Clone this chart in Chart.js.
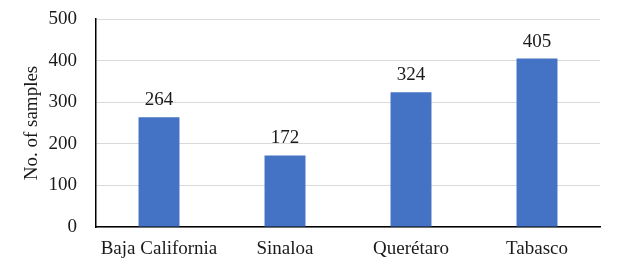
<!DOCTYPE html>
<html>
<head>
<meta charset="utf-8">
<script src="https://cdn.jsdelivr.net/npm/chart.js@4"></script>
<style>
html,body{margin:0;padding:0;background:#fff;}
#wrap{width:619px;height:272px;position:relative;}
</style>
</head>
<body>
<div id="wrap"><canvas id="c" width="619" height="272"></canvas></div>
<script>
const categories = ["Baja California", "Sinaloa", "Querétaro", "Tabasco"];
const samples = [264, 172, 324, 405];
const yTicks = [0, 100, 200, 300, 400, 500];

const FONT = "'Liberation Serif', 'Times New Roman', serif";

const valueLabels = {
  id: 'valueLabels',
  afterDatasetsDraw(chart) {
    const ctx = chart.ctx;
    const meta = chart.getDatasetMeta(0);
    ctx.save();
    ctx.font = "19px " + FONT;
    ctx.fillStyle = "#1a1a1a";
    ctx.textAlign = "center";
    ctx.textBaseline = "alphabetic";
    meta.data.forEach((bar, i) => {
      ctx.fillText(String(samples[i]), bar.x, bar.y - 12);
    });
    ctx.restore();
  }
};

new Chart(document.getElementById('c'), {
  type: 'bar',
  data: {
    labels: categories,
    datasets: [{
      data: samples,
      backgroundColor: '#4472C4',
      borderWidth: 0,
      barPercentage: 0.65,
      categoryPercentage: 0.5
    }]
  },
  options: {
    responsive: false,
    animation: false,
    devicePixelRatio: 1,
    layout: { padding: { top: 19, right: 19, left: 0, bottom: 0 } },
    plugins: { legend: { display: false }, tooltip: { enabled: false } },
    scales: {
      x: {
        grid: { display: false, drawTicks: false },
        border: { color: '#000', width: 1.5 },
        ticks: { color: '#1a1a1a', font: { family: FONT, size: 19 }, padding: 11, maxRotation: 0, autoSkip: false },
        afterFit(s) { s.height = 45; s.paddingLeft = 0; s.paddingRight = 0; }
      },
      y: {
        min: 0, max: 500,
        afterBuildTicks(s) { s.ticks = yTicks.map(v => ({ value: v })); },
        grid: { color: '#d9d9d9', lineWidth: 1, drawTicks: false },
        border: { color: '#000', width: 1.5 },
        ticks: { color: '#1a1a1a', font: { family: FONT, size: 19 }, padding: 19 },
        title: { display: true, text: 'No. of samples', color: '#1a1a1a', font: { family: FONT, size: 19 }, padding: { top: 21, bottom: 0 } },
        afterFit(s) { s.width = 96; s.paddingTop = 0; s.paddingBottom = 0; }
      }
    }
  },
  plugins: [valueLabels]
});
</script>
</body>
</html>
